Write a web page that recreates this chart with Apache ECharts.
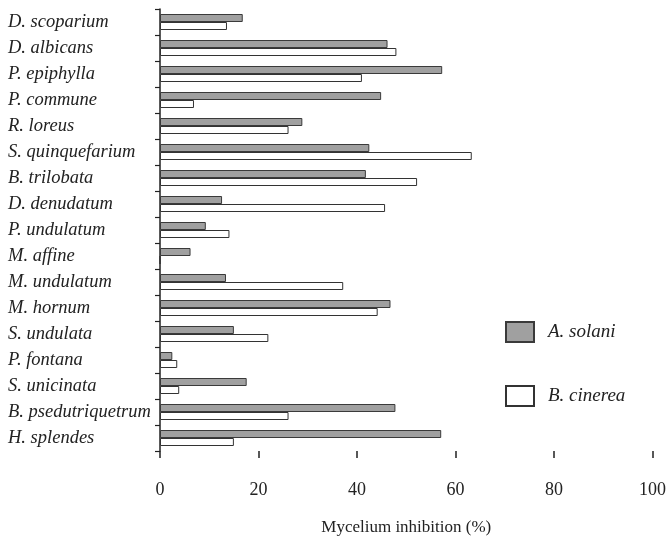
<!DOCTYPE html>
<html>
<head>
<meta charset="utf-8">
<script src="https://cdn.jsdelivr.net/npm/echarts@6/dist/echarts.min.js"></script>
<style>
  html, body { margin: 0; padding: 0; background: #fff; }
  #chart { width: 669px; height: 541px; }
</style>
</head>
<body>
<div id="chart"></div>
<script>
// Moss species extracts tested (top to bottom)
const species = [
  'D. scoparium', 'D. albicans', 'P. epiphylla', 'P. commune', 'R. loreus',
  'S. quinquefarium', 'B. trilobata', 'D. denudatum', 'P. undulatum', 'M. affine',
  'M. undulatum', 'M. hornum', 'S. undulata', 'P. fontana', 'S. unicinata',
  'B. psedutriquetrum', 'H. splendes'
];

// Mycelium inhibition (%) against each fungus
const alternariaSolani = [
  16.8, 46.2, 57.3, 44.9, 28.9, 42.5, 41.8, 12.6, 9.3, 6.2,
  13.4, 46.8, 15.0, 2.5, 17.6, 47.8, 57.1
];
const botrytisCinerea = [
  13.6, 48.0, 41.0, 6.9, 26.1, 63.3, 52.2, 45.7, 14.1, 0,
  37.2, 44.2, 22.0, 3.5, 3.9, 26.1, 15.0
];

const xTicks = [0, 20, 40, 60, 80, 100];

const serif = '"Liberation Serif", "DejaVu Serif", serif';
const ink = '#222';

const chart = echarts.init(document.getElementById('chart'), null, { renderer: 'canvas' });

chart.setOption({
  backgroundColor: '#fff',
  animation: false,
  grid: { left: 160, right: 13, top: 9, bottom: 87.5, containLabel: false },
  legend: {
    orient: 'vertical',
    left: 500,
    top: 316,
    itemWidth: 28,
    itemHeight: 20,
    itemGap: 42,
    icon: 'rect',
    textStyle: {
      fontFamily: serif, fontStyle: 'italic', fontSize: 19, color: ink,
      padding: [6, 0, 0, 9]
    },
    data: ['A. solani', 'B. cinerea']
  },
  xAxis: {
    type: 'value',
    min: xTicks[0],
    max: xTicks[xTicks.length - 1],
    interval: xTicks[1] - xTicks[0],
    name: 'Mycelium inhibition (%)',
    nameLocation: 'middle',
    nameGap: 68,
    nameTextStyle: { fontFamily: serif, fontSize: 17, color: ink },
    axisLine: { lineStyle: { color: '#222', width: 1.5 } },
    axisTick: { show: true, length: 7, lineStyle: { color: '#222', width: 1.5 } },
    axisLabel: { fontFamily: serif, fontSize: 18, color: ink, margin: 30 },
    splitLine: { show: false }
  },
  yAxis: {
    type: 'category',
    inverse: true,
    data: species,
    axisLine: { lineStyle: { color: '#222', width: 1.5 } },
    axisTick: { show: true, length: 5, lineStyle: { color: '#222', width: 1.2 } },
    axisLabel: {
      align: 'left',
      margin: 152,
      fontFamily: serif,
      fontStyle: 'italic',
      fontSize: 18.5,
      color: ink,
      padding: [5, 0, 0, 0]
    }
  },
  series: [
    {
      name: 'A. solani',
      type: 'bar',
      data: alternariaSolani,
      barWidth: 8,
      barGap: '0%',
      itemStyle: { color: '#a0a0a0', borderColor: '#3a3a3a', borderWidth: 1 }
    },
    {
      name: 'B. cinerea',
      type: 'bar',
      data: botrytisCinerea,
      barWidth: 8,
      barGap: '0%',
      itemStyle: { color: '#ffffff', borderColor: '#333', borderWidth: 1 }
    }
  ]
});
</script>
</body>
</html>
